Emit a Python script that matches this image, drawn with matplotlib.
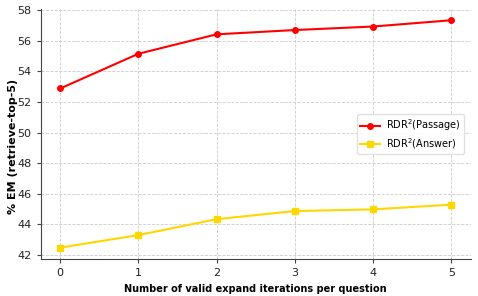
import matplotlib
matplotlib.use("Agg")
import matplotlib.pyplot as plt

iterations = [0, 1, 2, 3, 4, 5]
passage_em = [52.88, 55.15, 56.42, 56.70, 56.93, 57.34]
answer_em = [42.48, 43.30, 44.34, 44.87, 44.98, 45.29]

fig, ax = plt.subplots(figsize=(4.78, 2.96), dpi=100)

ax.plot(iterations, passage_em, color="red", marker="o", markersize=4,
        linewidth=1.5, label=r"RDR$^2$(Passage)")
ax.plot(iterations, answer_em, color="gold", marker="s", markersize=4,
        linewidth=1.5, label=r"RDR$^2$(Answer)")

ax.set_xlabel("Number of valid expand iterations per question", fontsize=7.0, fontweight="bold")
ax.set_ylabel("% EM (retrieve-top-5)", fontsize=8.0, fontweight="bold")
ax.yaxis.set_label_coords(-0.053, 0.45)
ax.set_yticks(range(42, 59, 2))
ax.set_xticks(iterations)
ax.tick_params(labelsize=8, color="#444444", labelcolor="#222222", length=3)
ax.grid(True, linestyle="--", color="#cccccc", linewidth=0.6)
for side in ("top", "right"):
    ax.spines[side].set_visible(False)
for side in ("left", "bottom"):
    ax.spines[side].set_color("#444444")

ax.legend(loc="center right", bbox_to_anchor=(0.995, 0.5), fontsize=7.0, framealpha=0.9,
          edgecolor="#dddddd", labelspacing=0.3, borderpad=0.35, handlelength=2.0,
          handletextpad=0.6)

fig.subplots_adjust(left=0.085, right=0.985, top=0.97, bottom=0.125)
fig.savefig("out.png", dpi=100)
